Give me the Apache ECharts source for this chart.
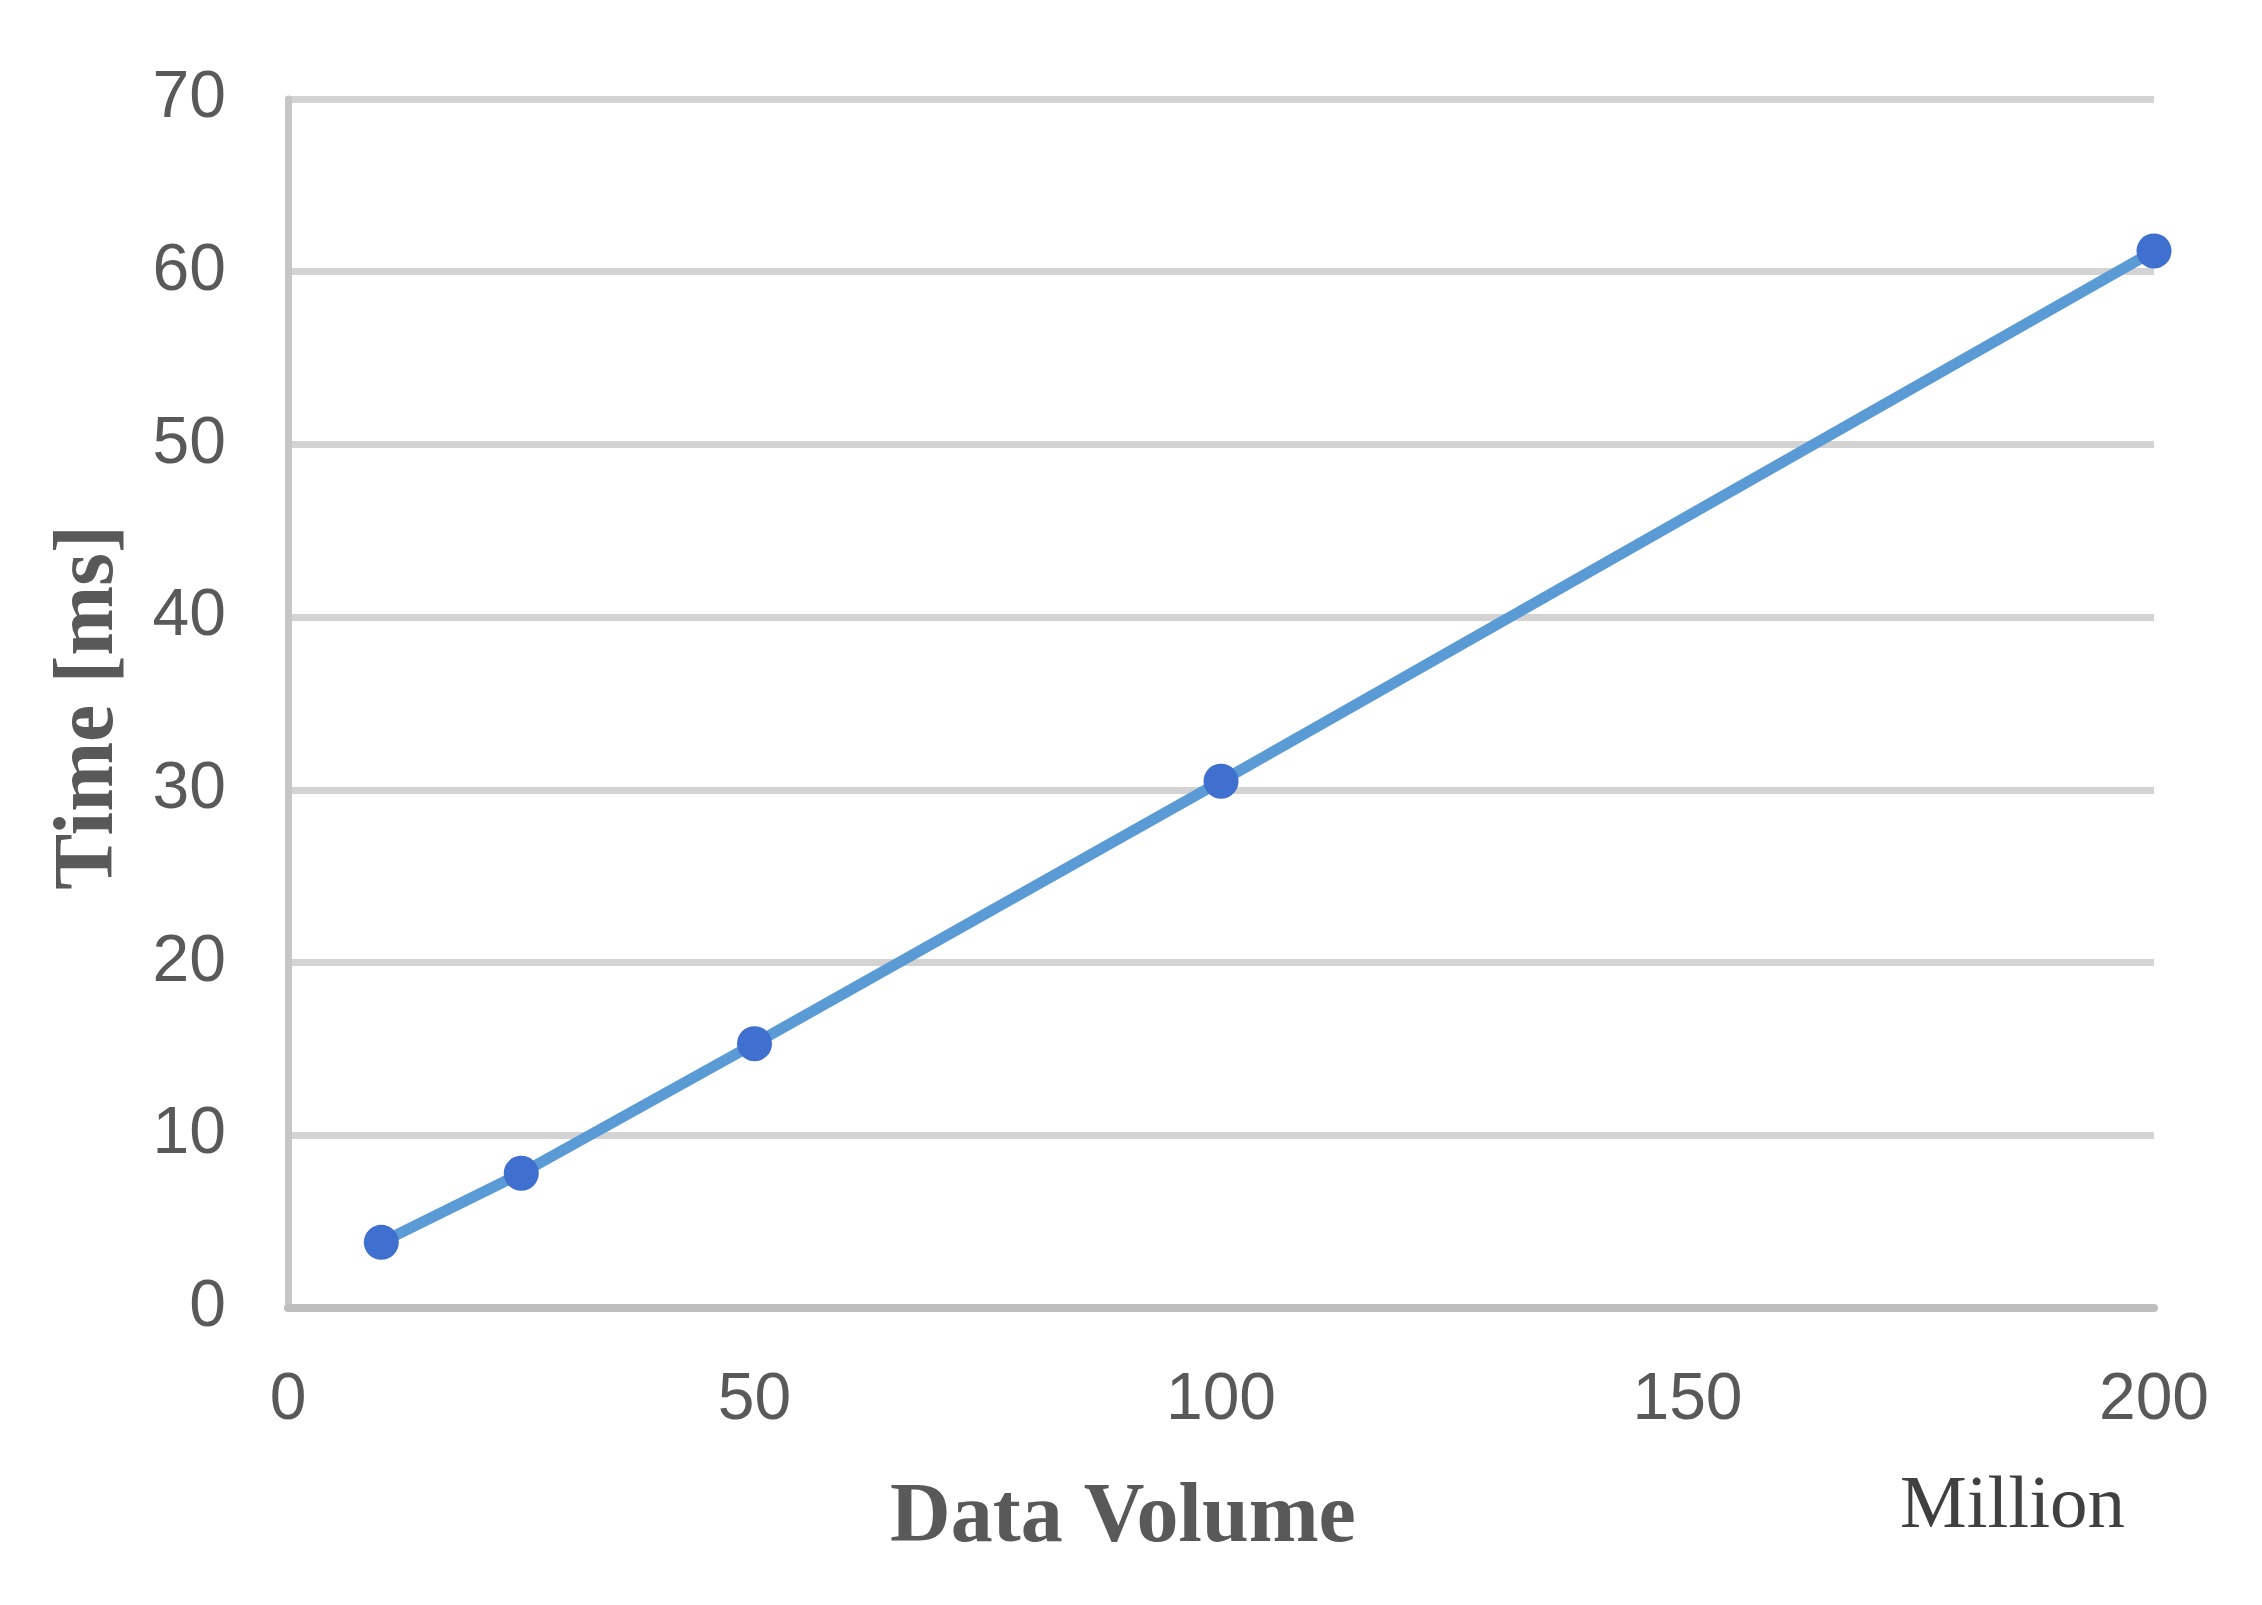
<!DOCTYPE html>
<html>
<head>
<meta charset="utf-8">
<script src="https://cdn.jsdelivr.net/npm/echarts@6/dist/echarts.min.js"></script>
<style>
  html, body { margin: 0; padding: 0; background: #fff; }
  #chart { width: 2262px; height: 1605px; }
</style>
</head>
<body>
<div id="chart"></div>
<script>
// data volume (million) and time (ms)
const volumes = [10, 25, 50, 100, 200];
const times = [3.8, 7.8, 15.3, 30.5, 61.2];
const xTicks = [0, 50, 100, 150, 200];
const yTicks = [0, 10, 20, 30, 40, 50, 60, 70];

const chart = echarts.init(document.getElementById("chart"));

const labelFont = "'Liberation Sans', Arial, sans-serif";
const serifFont = "'Liberation Serif', 'Times New Roman', serif";

const option = {
  backgroundColor: "#ffffff",
  animation: false,
  grid: { left: 288, right: 108, top: 99, bottom: 297 },
  xAxis: {
    type: "value",
    min: xTicks[0],
    max: xTicks[xTicks.length - 1],
    interval: 50,
    axisLine: { show: true, lineStyle: { color: "#bdbdbd", width: 8 } },
    axisTick: { show: false },
    splitLine: { show: false },
    axisLabel: { color: "#595959", fontSize: 66, fontFamily: labelFont, margin: 60 }
  },
  yAxis: {
    type: "value",
    min: yTicks[0],
    max: yTicks[yTicks.length - 1],
    interval: 10,
    axisLine: { show: true, lineStyle: { color: "#c6c6c6", width: 7 } },
    axisTick: { show: false },
    splitLine: { show: true, lineStyle: { color: "#d3d3d3", width: 7 } },
    axisLabel: { color: "#595959", fontSize: 66, fontFamily: labelFont, margin: 62, padding: [12, 0, 0, 0] }
  },
  graphic: [
    {
      type: "text",
      left: 48,
      top: 525,
      rotation: Math.PI / 2,
      style: {
        text: "Time [ms]",
        fill: "#595959",
        font: "bold 84px " + serifFont
      }
    },
    {
      type: "text",
      left: 890,
      top: 1477,
      style: {
        text: "Data Volume",
        fill: "#595959",
        font: "bold 84px " + serifFont
      }
    },
    {
      type: "text",
      left: 1900,
      top: 1470,
      style: {
        text: "Million",
        fill: "#404040",
        font: "75px " + serifFont
      }
    }
  ],
  series: [
    {
      type: "line",
      data: volumes.map((v, i) => [v, times[i]]),
      lineStyle: { color: "#5b9bd5", width: 11 },
      itemStyle: { color: "#3f6fcf" },
      symbol: "circle",
      symbolSize: 35,
      showSymbol: true,
      z: 3
    }
  ]
};

chart.setOption(option);
</script>
</body>
</html>
